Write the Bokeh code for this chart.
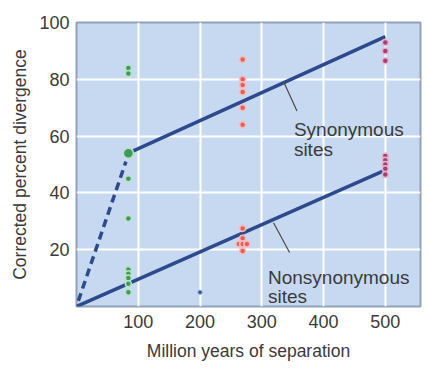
from bokeh.plotting import figure
from bokeh.models import FixedTicker, Range1d
from bokeh.core.properties import value
from bokeh.embed import file_html
from bokeh.resources import INLINE

# Data
green_x = [84, 84, 84, 84, 84, 84, 84, 84, 84]
green_y = [84, 82, 45, 31, 13, 11.5, 10, 8, 5]
green_big_x = [84]
green_big_y = [54]
blue_x = [200]
blue_y = [5]
red_x = [269, 269, 269, 269, 269, 269, 269, 269, 263, 269, 276, 269]
red_y = [87, 80, 78, 75.5, 70, 64, 27.5, 24, 22, 22, 22, 19.5]
purple_x = [500, 500, 500, 500, 500, 500, 500, 500]
purple_y = [93, 90, 86.5, 53, 51.5, 50, 48.5, 46.5]

syn_line_x = [84, 500]
syn_line_y = [54, 95]
dash_line_x = [3, 80]
dash_line_y = [2, 51]
nonsyn_line_x = [0, 500]
nonsyn_line_y = [0, 48]

x_ticks = [100, 200, 300, 400, 500]
y_ticks = [20, 40, 60, 80, 100]

syn_label = ["Synonymous", "sites"]
syn_label_x = 352
syn_label_y = [62.5, 55.2]
syn_leader_x = [335, 357]
syn_leader_y = [79.3, 68.8]

nonsyn_label = ["Nonsynonymous", "sites"]
nonsyn_label_x = 310
nonsyn_label_y = [10.3, 3.5]
nonsyn_leader_x = [319, 345]
nonsyn_leader_y = [29.5, 19]

FONT = "Liberation Sans"
TXT = "#3a3a3a"

p = figure(width=429, height=369, output_backend="svg", toolbar_location=None,
           x_range=Range1d(0, 557), y_range=Range1d(0, 100),
           min_border_left=76, min_border_right=9, min_border_top=22,
           min_border_bottom=63)

p.background_fill_color = "#c7d9f0"
p.border_fill_color = "white"
p.outline_line_color = "#8fa2b8"
p.outline_line_width = 2

p.xaxis.ticker = FixedTicker(ticks=x_ticks)
p.yaxis.ticker = FixedTicker(ticks=y_ticks)
p.xgrid.ticker = FixedTicker(ticks=x_ticks)
p.ygrid.ticker = FixedTicker(ticks=y_ticks)
for g in (p.xgrid, p.ygrid):
    g.grid_line_color = "white"
    g.grid_line_width = 2

for ax in (p.xaxis, p.yaxis):
    ax.axis_line_color = None
    ax.major_tick_line_color = None
    ax.minor_tick_line_color = None
    ax.major_tick_out = 0
    ax.major_tick_in = 0
    ax.major_label_text_font = FONT
    ax.major_label_text_font_size = "18px"
    ax.major_label_text_color = TXT
    ax.axis_label_text_font = FONT
    ax.axis_label_text_font_size = "17.5px"
    ax.axis_label_text_font_style = "normal"
    ax.axis_label_text_color = TXT

p.xaxis.major_label_standoff = 8
p.yaxis.major_label_standoff = 7
p.xaxis.axis_label = "Million years of separation"
p.yaxis.axis_label = "Corrected percent divergence"
p.xaxis.axis_label_standoff = 10
p.yaxis.axis_label_standoff = 6

# lines
p.line(dash_line_x, dash_line_y, line_color="#2c4a8c", line_width=3.5, line_dash="8 5")
p.line(syn_line_x, syn_line_y, line_color="#2c4a8c", line_width=3.5)
p.line(nonsyn_line_x, nonsyn_line_y, line_color="#2c4a8c", line_width=3.5)

# leaders
p.line(syn_leader_x, syn_leader_y, line_color="#4a4a4a", line_width=1.2)
p.line(nonsyn_leader_x, nonsyn_leader_y, line_color="#4a4a4a", line_width=1.2)

# points
p.scatter(green_x, green_y, size=6, fill_color="#3e9a58", line_color="#b8e2c2", line_width=1.5)
p.scatter(green_big_x, green_big_y, size=10, fill_color="#3e9a58", line_color="#b8e2c2", line_width=1.5)
p.scatter(blue_x, blue_y, size=4, fill_color="#2f4f86", line_color="#7e98c4", line_width=1)
p.scatter(red_x, red_y, size=6, fill_color="#e2605c", line_color="#f6bcbc", line_width=1.5)
p.scatter(purple_x, purple_y, size=6, fill_color="#a3416f", line_color="#e9b6cf", line_width=1.5)

# labels
p.text(x=[syn_label_x] * 2, y=syn_label_y, text=syn_label, text_font=value(FONT),
       text_font_size="19px", text_color=TXT, text_baseline="alphabetic", text_align="left")
p.text(x=[nonsyn_label_x] * 2, y=nonsyn_label_y, text=nonsyn_label, text_font=value(FONT),
       text_font_size="19px", text_color=TXT, text_baseline="alphabetic", text_align="left")

open("out.html", "w").write(file_html(p, INLINE))
